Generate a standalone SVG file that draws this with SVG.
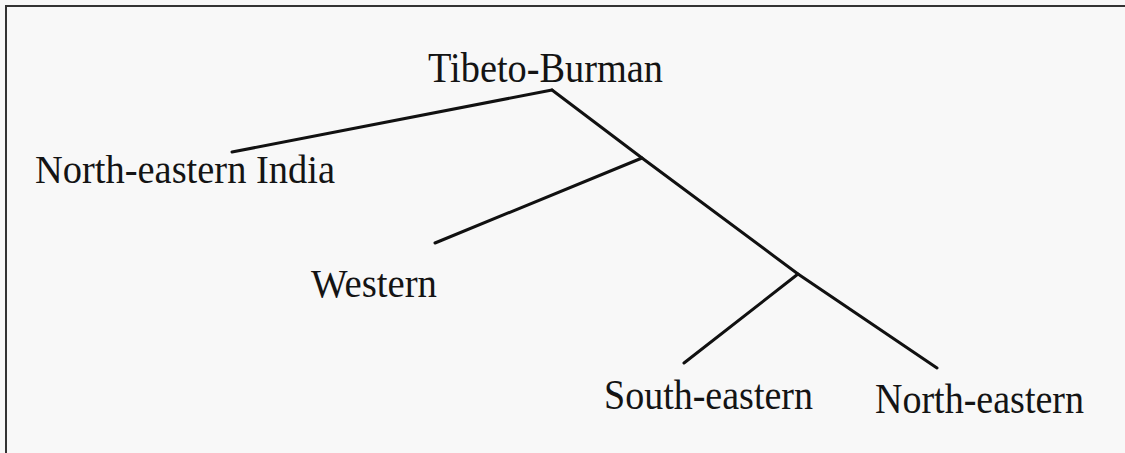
<svg xmlns="http://www.w3.org/2000/svg" width="1125" height="453" viewBox="0 0 1125 453">
<style>
.lbl{font-family:"Liberation Serif","Times New Roman",serif;fill:#141414}
.edge{stroke:#111;stroke-width:3;fill:none;stroke-linecap:round}
</style>
<rect x="0" y="0" width="1125" height="453" fill="#f8f8f8"/>
<path d="M6,453 V6 H1125" fill="none" stroke="#333" stroke-width="2"/>
<g id="connectors">
<polyline class="edge" points="232,152 552,90"/>
<polyline class="edge" points="552,90 642,158 798,274 937,368"/>
<polyline class="edge" points="642,158 435,243"/>
<polyline class="edge" points="798,274 684,363"/>
</g>
<g id="tibeto-burman"><text class="lbl" x="428" y="82" font-size="43" textLength="235" lengthAdjust="spacingAndGlyphs">Tibeto-Burman</text></g>
<g id="ne-india"><text class="lbl" x="35" y="183" font-size="40" textLength="300" lengthAdjust="spacingAndGlyphs">North-eastern India</text></g>
<g id="western"><text class="lbl" x="311" y="297" font-size="40" textLength="126" lengthAdjust="spacingAndGlyphs">Western</text></g>
<g id="south-eastern"><text class="lbl" x="604" y="409" font-size="42" textLength="209" lengthAdjust="spacingAndGlyphs">South-eastern</text></g>
<g id="north-eastern"><text class="lbl" x="875" y="413" font-size="42" textLength="209" lengthAdjust="spacingAndGlyphs">North-eastern</text></g>
</svg>
